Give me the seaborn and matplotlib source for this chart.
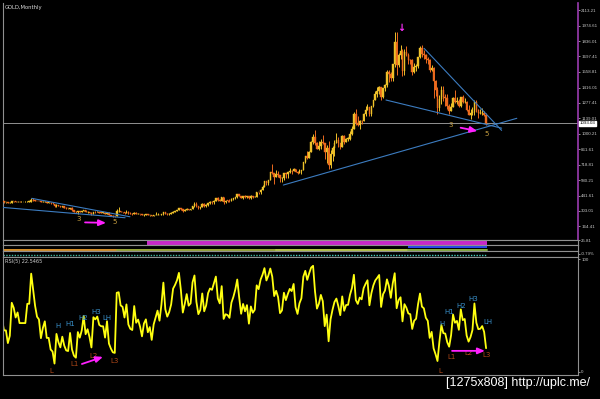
import numpy as np
import pandas as pd
import matplotlib
matplotlib.use("Agg")
import matplotlib.pyplot as plt
import seaborn as sns

# ---------------- data (monthly gold, Jan 1994 .. Jul 2015) ----------------
closes = [
    387, 381, 389, 376, 387, 386, 384, 385, 394, 389, 383, 383,   # 1994
    375, 377, 391, 389, 385, 387, 383, 383, 383, 383, 387, 387,   # 1995
    405, 401, 396, 392, 391, 382, 385, 387, 379, 379, 371, 369,   # 1996
    345, 358, 348, 340, 345, 334, 326, 325, 332, 311, 296, 290,   # 1997
    304, 297, 301, 310, 293, 296, 288, 273, 294, 292, 294, 288,   # 1998
    287, 287, 280, 286, 268, 261, 255, 254, 299, 300, 291, 290,   # 1999
    283, 293, 278, 274, 273, 288, 276, 278, 273, 265, 271, 273,   # 2000
    265, 267, 258, 264, 267, 270, 266, 273, 293, 279, 274, 277,   # 2001
    282, 297, 302, 309, 326, 318, 304, 312, 323, 316, 318, 347,   # 2002
    368, 347, 334, 339, 364, 346, 354, 375, 385, 384, 397, 416,   # 2003
    400, 396, 427, 388, 395, 394, 391, 408, 416, 428, 452, 438,   # 2004
    422, 435, 428, 435, 417, 436, 430, 433, 473, 470, 496, 517,   # 2005
    569, 556, 583, 654, 643, 614, 633, 624, 599, 604, 646, 636,   # 2006
    651, 665, 663, 681, 658, 650, 665, 673, 743, 795, 783, 834,   # 2007
    923, 972, 916, 865, 886, 928, 913, 833, 871, 718, 815, 869,   # 2008
    919, 942, 916, 884, 979, 926, 954, 955, 1001, 1040, 1182, 1096,  # 2009
    1081, 1118, 1113, 1179, 1213, 1244, 1181, 1247, 1307, 1357, 1386, 1421,  # 2010
    1333, 1411, 1439, 1556, 1536, 1500, 1628, 1825, 1620, 1713, 1746, 1564,  # 2011
    1738, 1710, 1669, 1664, 1561, 1604, 1614, 1692, 1773, 1719, 1712, 1675,  # 2012
    1663, 1578, 1595, 1472, 1393, 1234, 1313, 1395, 1327, 1323, 1250, 1202,  # 2013
    1240, 1326, 1284, 1291, 1250, 1327, 1283, 1287, 1211, 1172, 1183, 1199,  # 2014
    1283, 1213, 1183, 1184, 1190, 1172, 1095,                                # 2015
]
highs = [
    396, 392, 392, 390, 392, 396, 390, 389, 398, 397, 392, 386,
    381, 383, 396, 396, 394, 392, 391, 389, 387, 390, 389, 389,
    418, 417, 403, 397, 395, 393, 391, 391, 388, 385, 384, 381,
    369, 362, 357, 348, 350, 347, 335, 330, 334, 338, 313, 300,
    307, 305, 303, 315, 310, 300, 298, 291, 297, 302, 300, 296,
    293, 292, 290, 292, 290, 269, 267, 257, 322, 339, 301, 293,
    298, 315, 301, 291, 283, 294, 293, 282, 279, 276, 274, 278,
    275, 268, 269, 265, 293, 284, 271, 274, 296, 294, 282, 282,
    291, 303, 304, 312, 328, 330, 320, 318, 330, 325, 324, 349,
    384, 382, 351, 341, 372, 372, 365, 379, 396, 395, 400, 417,
    428, 410, 430, 429, 398, 403, 408, 416, 422, 431, 455, 458,
    427, 437, 446, 437, 432, 443, 432, 438, 474, 477, 497, 541,
    573, 572, 586, 656, 730, 643, 669, 664, 632, 608, 650, 645,
    656, 691, 671, 693, 685, 667, 684, 675, 744, 800, 848, 843,
    931, 1000, 1033, 923, 935, 949, 987, 914, 901, 930, 857, 891,
    939, 1006, 968, 918, 984, 991, 961, 970, 1023, 1070, 1196, 1226,
    1162, 1126, 1127, 1185, 1249, 1265, 1214, 1249, 1308, 1388, 1424, 1431,
    1389, 1411, 1447, 1575, 1577, 1555, 1632, 1913, 1921, 1731, 1803, 1763,
    1764, 1792, 1725, 1678, 1670, 1640, 1631, 1693, 1790, 1796, 1754, 1723,
    1694, 1678, 1617, 1605, 1488, 1424, 1348, 1434, 1434, 1361, 1362, 1267,
    1280, 1332, 1392, 1331, 1315, 1332, 1345, 1322, 1293, 1256, 1224, 1239,
    1307, 1306, 1220, 1224, 1232, 1205, 1183,
]
lows = [
    377, 376, 377, 371, 374, 379, 378, 376, 383, 386, 378, 375,
    372, 373, 374, 386, 382, 384, 380, 380, 380, 381, 382, 385,
    387, 395, 394, 389, 390, 382, 380, 385, 378, 376, 370, 366,
    341, 342, 346, 336, 338, 334, 318, 318, 321, 307, 293, 285,
    276, 293, 293, 300, 292, 289, 285, 271, 272, 288, 290, 284,
    285, 284, 278, 280, 268, 257, 253, 251, 254, 297, 290, 288,
    279, 291, 274, 272, 269, 274, 276, 276, 270, 263, 262, 269,
    263, 254, 256, 255, 264, 266, 263, 265, 270, 275, 268, 271,
    277, 286, 290, 304, 308, 310, 298, 302, 311, 309, 314, 317,
    341, 343, 320, 324, 336, 342, 339, 352, 368, 366, 369, 397,
    397, 391, 396, 370, 375, 385, 386, 389, 400, 411, 423, 437,
    417, 410, 420, 423, 414, 415, 418, 429, 432, 459, 456, 490,
    516, 539, 537, 584, 641, 543, 612, 612, 561, 560, 579, 605,
    603, 647, 636, 660, 655, 640, 646, 641, 672, 734, 776, 780,
    847, 904, 895, 861, 851, 861, 910, 775, 735, 682, 693, 752,
    801, 921, 883, 866, 879, 911, 922, 933, 946, 992, 1039, 1075,
    1072, 1045, 1088, 1112, 1162, 1212, 1157, 1158, 1240, 1315, 1330, 1361,
    1308, 1324, 1384, 1419, 1463, 1477, 1478, 1601, 1534, 1604, 1670, 1523,
    1529, 1697, 1628, 1627, 1527, 1548, 1564, 1596, 1687, 1694, 1672, 1635,
    1626, 1555, 1565, 1321, 1338, 1180, 1207, 1270, 1292, 1251, 1221, 1180,
    1202, 1240, 1277, 1269, 1240, 1240, 1281, 1278, 1201, 1183, 1132, 1168,
    1168, 1197, 1142, 1175, 1169, 1162, 1080,
]
first_open = 391
current_price = 1093.03
price_ticks = [2113.21, 1974.61, 1836.01, 1697.41, 1558.81, 1416.01, 1277.41,
               1139.01, 1000.21, 861.61, 718.81, 580.21, 441.61, 303.01, 164.41]
rsi_period = 5
rsi_label = "RSI(5) 22.5465"

# trend lines: (bar index, price) pairs
trend_lines = [
    ((226.1, 1770), (266.0, 1030)),
    ((206.5, 1304), (266.0, 1050)),
    ((153.7, 537), (273.8, 1139)),
    ((24.3, 417), (74.8, 251)),
    ((8.8, 336), (72.3, 242)),
]
wave_labels = [("3", 48.6, 231), ("5", 67.1, 204), ("3", 240.0, 1080), ("5", 258.3, 997)]
price_arrows = [((51.7, 200), (62.5, 196)), ((244.9, 1054), (253.5, 1024))]
peak_mark = (214.2, 1912)

rsi_h_labels = [("H", 37.8, 41.1), ("H1", 44.0, 42.9), ("H2", 50.7, 48.2), ("H3", 57.3, 53.6),
                ("LH", 63.0, 48.2), ("H", 235.3, 42.9), ("H1", 238.9, 53.6), ("H2", 245.1, 58.9),
                ("H3", 251.3, 65.2), ("LH", 259.0, 44.6)]
rsi_l_labels = [("L", 34.2, 0.9), ("L1", 46.5, 7.1), ("L2", 55.8, 14.3), ("L3", 67.1, 9.8),
                ("L", 234.3, 0.9), ("L1", 240.0, 13.4), ("L2", 249.2, 17.0), ("L3", 258.5, 15.2)]
rsi_arrows = [((50.1, 7.1), (60.9, 13.4)), ((240.5, 18.75), (257.4, 18.75))]

# small indicator strips: (start bar, end bar, colour)
strip_a_segments = [(84, 258, "#c828c8")]
strip_b_segments = [(9.5, 68, "#d8902a"), (68, 150, "#9aa838"), (150, 218, "#b8c848"),
                    (218, 258.5, "#88b040")]
strip_b_fill = [(218, 258.5, "#2848e8")]
strip_c_segments = [(9.5, 150, "#40b8a0"), (150, 258.5, "#48d0c0")]

# ---------------- layout helpers ----------------
W, H = 600, 399
bar_px = 1.944
x_left = 9.5
x_right = x_left + 575 / bar_px
LBL_FONT = ["Liberation Sans", "DejaVu Sans"]


def fig_rect(top_px, bottom_px, left_px=3, right_px=578):
    return [left_px / W, 1 - bottom_px / H, (right_px - left_px) / W, (bottom_px - top_px) / H]


sns.set_theme(style="dark")
plt.rcParams["font.family"] = ["DejaVu Sans"]
fig = plt.figure(figsize=(6.0, 3.99), dpi=100, facecolor="black")

ax = fig.add_axes(fig_rect(3, 240))
ax_a = fig.add_axes(fig_rect(240, 244.5))
ax_b = fig.add_axes(fig_rect(244.5, 251))
ax_c = fig.add_axes(fig_rect(251, 256.5))
ax_r = fig.add_axes(fig_rect(257, 375))

for a in (ax, ax_a, ax_b, ax_c, ax_r):
    a.set_facecolor("black")
    a.grid(False)
    a.set_xlim(x_left, x_right)
    a.set_xticks([])
    for s in a.spines.values():
        s.set_color("#909090")
        s.set_linewidth(0.8)
    a.tick_params(axis="y", which="both", right=True, left=False, labelright=True,
                  labelleft=False, length=1.5, width=0.5, colors="#c8c8c8", labelsize=3.2, pad=0.8)


def style_ticklabels(a):
    for lab in a.get_yticklabels():
        lab.set_family(LBL_FONT)


# ---------------- candles ----------------
idx = np.arange(len(closes))
c = np.array(closes, float)
o = np.array([first_open] + closes[:-1], float)
hi = np.maximum(np.array(highs, float), np.maximum(o, c))
lo = np.minimum(np.array(lows, float), np.minimum(o, c))
up = c >= o
up_col, dn_col = "#efc22a", "#ec6a1e"
cols = np.where(up, up_col, dn_col)

ax.vlines(idx, lo, hi, colors=cols, linewidth=0.7, zorder=2)
ax.bar(idx, np.where(np.abs(c - o) < 3, 3, c - o), bottom=o, width=0.8,
       color=cols, edgecolor=cols, linewidth=0.3, zorder=3)

y_top = 2113.21 + (10.3 - 3) * 9.02
y_bot = 2113.21 - (240 - 10.3) * 9.02
ax.set_ylim(y_bot, y_top)
ax.set_yticks(price_ticks)
ax.set_yticklabels([f"{v:.2f}" for v in price_ticks])
style_ticklabels(ax)
ax.spines["right"].set_color("#9a3cb0")
ax.spines["right"].set_linewidth(1.2)
ax.spines["top"].set_visible(False)

ax.axhline(current_price, color="#a8a8a8", lw=0.6, zorder=1)
ax.text(1.003, current_price, f"{current_price:.2f}", transform=ax.get_yaxis_transform(),
        ha="left", va="center", fontsize=3.2, color="black", family=LBL_FONT,
        bbox=dict(boxstyle="square,pad=0.15", fc="white", ec="white"), clip_on=False)

for (x0, y0), (x1, y1) in trend_lines:
    sns.lineplot(x=[x0, x1], y=[y0, y1], ax=ax, color="#3c7cc0", lw=0.8, zorder=4)

for t, xx, yy in wave_labels:
    ax.text(xx, yy, t, color="#c8a040", fontsize=5, ha="center", va="center", zorder=5)
for (x0, y0), (x1, y1) in price_arrows:
    ax.annotate("", xy=(x1, y1), xytext=(x0, y0),
                arrowprops=dict(arrowstyle="-|>,head_length=0.35,head_width=0.15",
                                color="#ff20ff", lw=1.3, shrinkA=0, shrinkB=0), zorder=6)
ax.text(peak_mark[0], peak_mark[1], "\u2193", color="#ff30ff", fontsize=7,
        ha="center", va="bottom", fontweight="bold", zorder=6)
ax.text(0.003, 0.992, "GOLD,Monthly", transform=ax.transAxes, fontsize=3.8,
        color="#d8d8d8", ha="left", va="top")

# ---------------- indicator strips ----------------
ax_a.set_ylim(0, 27)
ax_a.set_yticks([25.81])
ax_a.set_yticklabels(["25.81"])
style_ticklabels(ax_a)
for s0, s1, col in strip_a_segments:
    xs = np.arange(int(np.ceil(s0)), int(s1) + 1)
    ax_a.bar(xs, np.full(len(xs), 25.81), width=1.0, color=col, linewidth=0)

ax_b.set_ylim(0, 1)
ax_b.set_yticks([])
for s0, s1, col in strip_b_fill:
    ax_b.fill_between([s0, s1], 0.45, 0.95, color=col, lw=0)
for s0, s1, col in strip_b_segments:
    ax_b.plot([s0, s1], [0.2, 0.2], color=col, lw=1.4)

ax_c.set_ylim(0, 1)
ax_c.set_yticks([0.5])
ax_c.set_yticklabels(["-0.79%"])
style_ticklabels(ax_c)
for s0, s1, col in strip_c_segments:
    ax_c.plot([s0, s1], [0.35, 0.35], color=col, lw=1.0, ls=(0, (1, 1)))

# ---------------- RSI ----------------
delta = pd.Series(c).diff()
gain = delta.clip(lower=0)
loss = -delta.clip(upper=0)
avg_g = gain.ewm(alpha=1 / rsi_period, adjust=False).mean()
avg_l = loss.ewm(alpha=1 / rsi_period, adjust=False).mean()
rsi = 100 * avg_g / (avg_g + avg_l)
rsi_df = pd.DataFrame({"bar": idx[1:], "rsi": rsi.values[1:]})
sns.lineplot(data=rsi_df, x="bar", y="rsi", ax=ax_r, color="#ffff10", lw=1.3)

ax_r.set_ylim(-2.7, 102.2)
ax_r.set_yticks([0, 100])
ax_r.set_yticklabels(["0", "100"])
style_ticklabels(ax_r)
ax_r.text(0.003, 0.985, rsi_label, transform=ax_r.transAxes, fontsize=3.6,
          color="#d0d0d0", ha="left", va="top")
for t, xx, yy in rsi_h_labels:
    ax_r.text(xx, yy, t, color="#3a92cc", fontsize=5, ha="center", va="center")
for t, xx, yy in rsi_l_labels:
    ax_r.text(xx, yy, t, color="#b04818", fontsize=5, ha="center", va="center")
for (x0, y0), (x1, y1) in rsi_arrows:
    ax_r.annotate("", xy=(x1, y1), xytext=(x0, y0),
                  arrowprops=dict(arrowstyle="-|>,head_length=0.35,head_width=0.15",
                                  color="#ff20ff", lw=1.3, shrinkA=0, shrinkB=0))

for a in (ax, ax_a, ax_b, ax_c, ax_r):
    a.set_xlabel("")
    a.set_ylabel("")
    a.set_xlim(x_left, x_right)

fig.text(446 / W, 1 - 383 / H, "[1275x808] http://uplc.me/", fontsize=9,
         family=LBL_FONT, color="white", ha="left", va="center")

fig.savefig("out.png", dpi=100, facecolor="black")
